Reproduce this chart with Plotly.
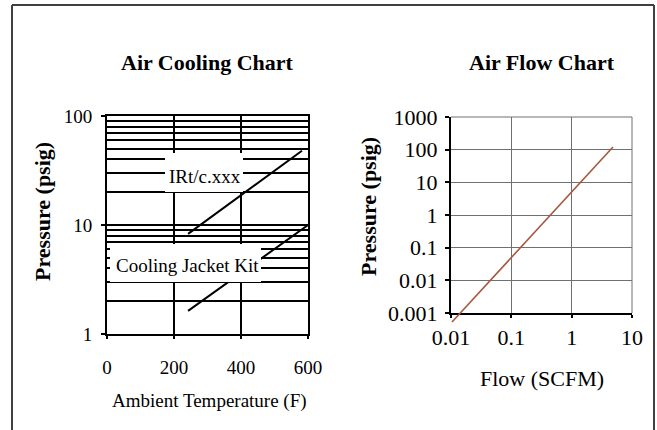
import plotly.graph_objects as go

W, H = 657, 430

# ---- data ----
cool_temp_irt = [242, 582]
cool_press_irt = [8.3, 48]
cool_temp_cjk = [242, 600]
cool_press_cjk = [1.63, 10]

flow_scfm = [0.0104, 0.1, 1, 4.84]
flow_psig = [0.00053, 0.05, 5, 120]

left_xticks = [0, 200, 400, 600]
left_yticks = [1, 10, 100]
left_yticklabels = ["1", "10", "100"]
left_minor = [2, 3, 4, 5, 6, 7, 8, 9, 20, 30, 40, 50, 60, 70, 80, 90]

right_xticks = [0.01, 0.1, 1, 10]
right_xticklabels = ["0.01", "0.1", "1", "10"]
right_yticks = [0.001, 0.01, 0.1, 1, 10, 100, 1000]
right_yticklabels = ["0.001", "0.01", "0.1", "1", "10", "100", "1000"]

FONT = "Liberation Serif"


def px(x):
    return x / W


def py(y):
    return 1 - y / H


fig = go.Figure()

fig.add_trace(go.Scatter(x=cool_temp_irt, y=cool_press_irt, mode="lines",
                         line=dict(color="black", width=2), xaxis="x", yaxis="y",
                         showlegend=False, hoverinfo="skip"))
fig.add_trace(go.Scatter(x=cool_temp_cjk, y=cool_press_cjk, mode="lines",
                         line=dict(color="black", width=2), xaxis="x", yaxis="y",
                         showlegend=False, hoverinfo="skip"))
# empty trace to instantiate the right-hand subplot (axes + grid)
fig.add_trace(go.Scatter(x=[], y=[], mode="lines", xaxis="x2", yaxis="y2",
                         showlegend=False, hoverinfo="skip"))
fig.add_trace(go.Scatter(x=flow_scfm, y=flow_psig, mode="lines",
                         line=dict(color="#A5583F", width=1.6), xaxis="x3", yaxis="y3",
                         showlegend=False, hoverinfo="skip"))

dec2 = (313 - 117) / 6.0
ext = 12 / dec2

fig.update_layout(
    width=W, height=H, autosize=False,
    margin=dict(l=0, r=0, t=0, b=0, pad=0, autoexpand=False),
    paper_bgcolor="white", plot_bgcolor="rgba(0,0,0,0)",
    showlegend=False,
    font=dict(family=FONT, color="black"),
    xaxis=dict(domain=[px(107), px(308)], anchor="y", range=[0, 600],
               tickvals=left_xticks, ticks="outside", ticklen=3, tickwidth=2,
               tickcolor="black", showline=True, linecolor="black", linewidth=2,
               mirror=True, showgrid=True, gridcolor="black", gridwidth=2,
               zeroline=False, automargin=False,
               tickfont=dict(size=19, family=FONT, color="black"),
               ticklabelstandoff=12),
    yaxis=dict(domain=[py(334), py(116)], anchor="x", type="log", range=[0, 2],
               tickvals=left_yticks, ticktext=left_yticklabels, ticks="outside",
               ticklen=4, tickwidth=2, tickcolor="black", showline=True,
               linecolor="black", linewidth=2, mirror=True, showgrid=True,
               gridcolor="black", gridwidth=2, zeroline=False, automargin=False,
               minor=dict(tickvals=left_minor, showgrid=True, gridcolor="black",
                          gridwidth=2, ticks=""),
               tickfont=dict(size=19, family=FONT, color="black"),
               ticklabelstandoff=5),
    xaxis2=dict(domain=[px(451), px(632)], anchor="y2", type="log", range=[-2, 1],
                tickvals=right_xticks, ticktext=right_xticklabels, ticks="outside",
                ticklen=3, tickwidth=1.5, tickcolor="black", showline=True,
                linecolor="black", linewidth=2, showgrid=True, gridcolor="#707070",
                gridwidth=1, zeroline=False, automargin=False,
                tickfont=dict(size=22, family=FONT, color="black"),
                ticklabelstandoff=1),
    yaxis2=dict(domain=[py(313), py(117)], anchor="x2", type="log", range=[-3, 3],
                tickvals=right_yticks, ticktext=right_yticklabels, ticks="outside",
                ticklen=4, tickwidth=1.5, tickcolor="black", showline=True,
                linecolor="black", linewidth=2, showgrid=True, gridcolor="#707070",
                gridwidth=1, zeroline=False, automargin=False,
                tickfont=dict(size=22, family=FONT, color="black"),
                ticklabelstandoff=3),
    xaxis3=dict(domain=[px(451), px(632)], anchor="y3", type="log", range=[-2, 1],
                visible=False, automargin=False),
    yaxis3=dict(domain=[py(313 + 12), py(117)], anchor="x3", type="log",
                range=[-3 - ext, 3], visible=False, automargin=False),
)

FR = dict(color="#404040", width=2)
shapes = [
    # top/right borders of the right chart (gray)
    dict(type="line", xref="paper", yref="paper", x0=px(451), x1=px(632),
         y0=py(117), y1=py(117), line=dict(color="#707070", width=1), layer="below"),
    dict(type="line", xref="paper", yref="paper", x0=px(632), x1=px(632),
         y0=py(313), y1=py(117), line=dict(color="#707070", width=1), layer="below"),
    # label backgrounds
    dict(type="rect", xref="paper", yref="paper", x0=px(165), x1=px(243),
         y0=py(192), y1=py(153), fillcolor="white", line=dict(width=0), layer="above"),
    dict(type="rect", xref="paper", yref="paper", x0=px(110), x1=px(261),
         y0=py(282), y1=py(244), fillcolor="white", line=dict(width=0), layer="above"),
    # outer frame (left, top, right) -- bottom runs off the page
    dict(type="line", xref="paper", yref="paper", x0=px(12), x1=px(12),
         y0=0, y1=py(5), line=FR, layer="above"),
    dict(type="line", xref="paper", yref="paper", x0=px(12), x1=px(654),
         y0=py(5), y1=py(5), line=FR, layer="above"),
    dict(type="line", xref="paper", yref="paper", x0=px(654), x1=px(654),
         y0=0, y1=py(5), line=FR, layer="above"),
]
fig.update_layout(shapes=shapes)

ann = [
    dict(text="<b>Air Cooling Chart</b>", x=px(207), y=py(63), size=22),
    dict(text="<b>Air Flow Chart</b>", x=px(542), y=py(63), size=22),
    dict(text="IRt/c.xxx", x=px(205), y=py(177), size=19),
    dict(text="Cooling Jacket Kit", x=px(187), y=py(265), size=19),
    dict(text="Ambient Temperature (F)", x=px(209), y=py(401), size=19),
    dict(text="Flow (SCFM)", x=px(542), y=py(378), size=22),
]
annotations = []
for a in ann:
    annotations.append(dict(text=a["text"], x=a["x"], y=a["y"], xref="paper",
                            yref="paper", xanchor="center", yanchor="middle",
                            showarrow=False,
                            font=dict(family=FONT, size=a["size"], color="black")))
for xx, yy in [(42, 212), (368, 207)]:
    annotations.append(dict(text="<b>Pressure (psig)</b>", x=px(xx), y=py(yy),
                            xref="paper", yref="paper", xanchor="center",
                            yanchor="middle", showarrow=False, textangle=-90,
                            font=dict(family=FONT, size=22, color="black")))
fig.update_layout(annotations=annotations)

fig.write_html(
    "out.html",
    config={"displayModeBar": False},
    post_script="document.body.style.margin='0';"
                "document.body.style.overflow='hidden';"
                "document.documentElement.style.overflow='hidden';",
)
